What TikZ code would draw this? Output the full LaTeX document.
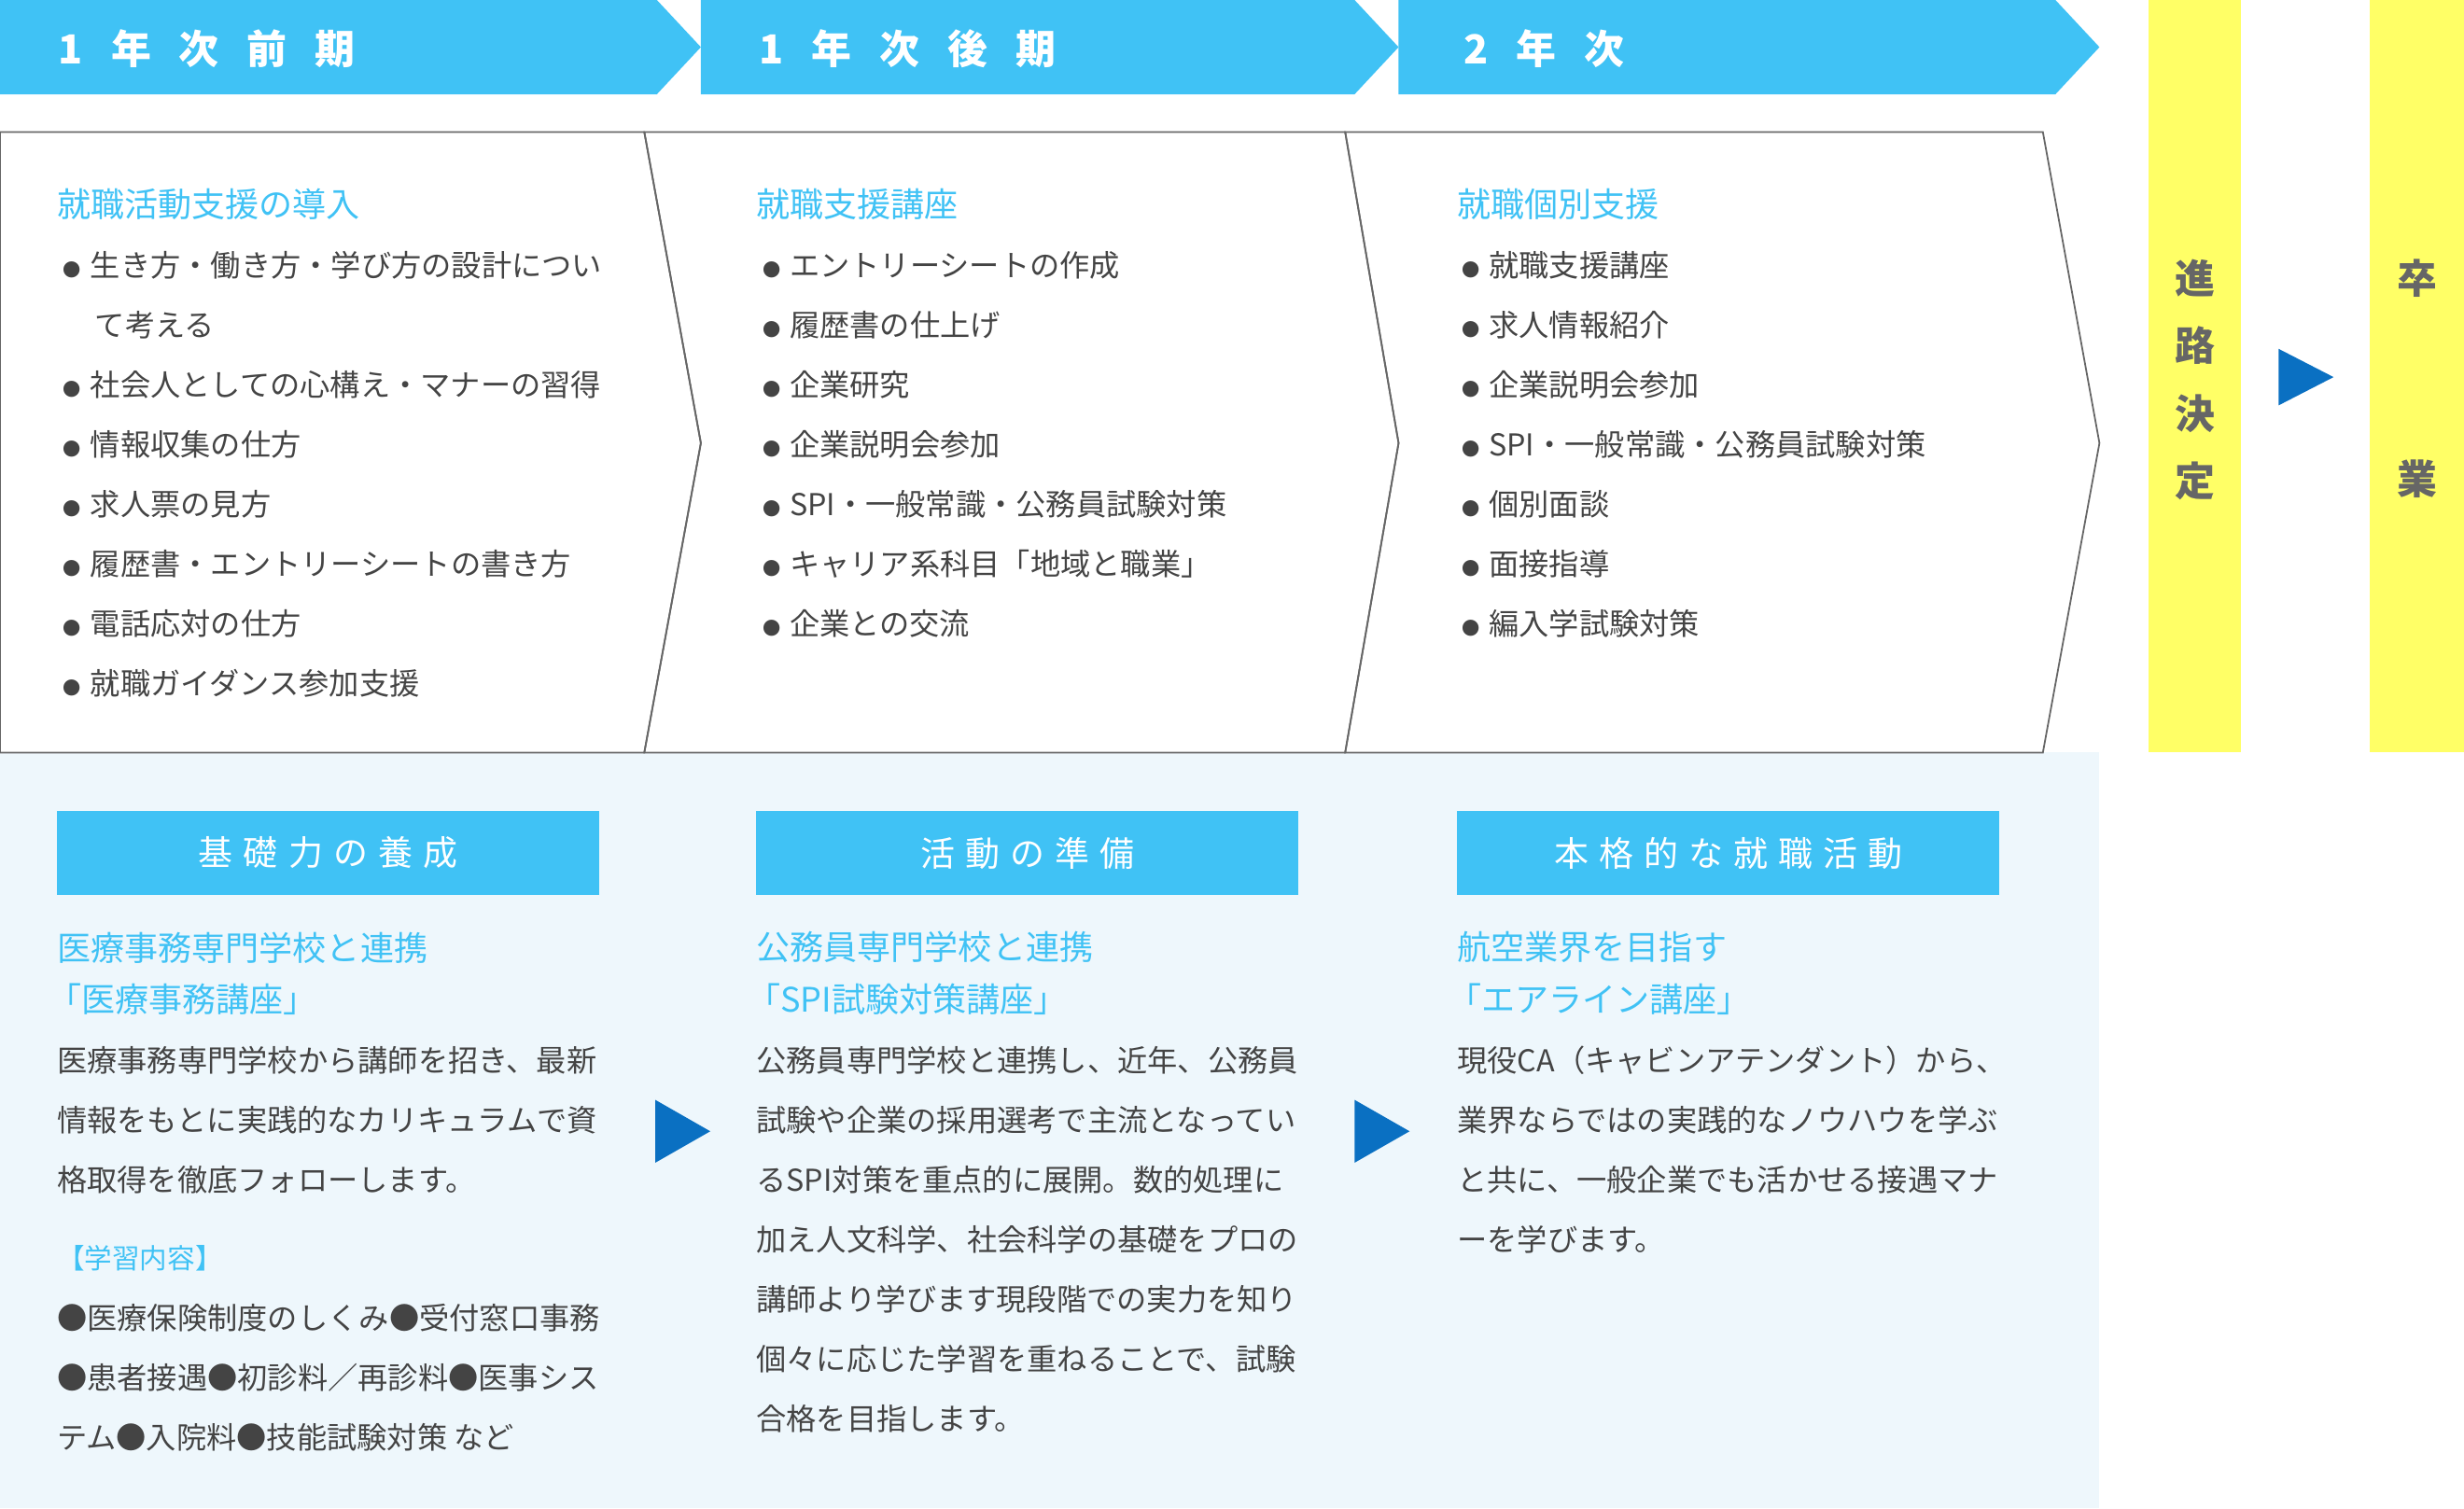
\documentclass[tikz,border=0pt]{standalone}
\usepackage{fontspec}
\setmainfont{Noto Sans CJK JP}
\usetikzlibrary{positioning}
\definecolor{skyb}{HTML}{40C2F5}
\definecolor{deepb}{HTML}{0A70C2}
\definecolor{paleb}{HTML}{EEF7FC}
\definecolor{yel}{HTML}{FFFF66}
\definecolor{txt}{HTML}{444444}
\newcommand{\dotb}{{\fontsize{6.5}{7}\selectfont●}\hspace{0.3em}}
\tikzset{
  body/.style={anchor=west, inner sep=0pt, text=txt, font=\fontsize{10.9}{12}\selectfont},
  ttl/.style={anchor=west, inner sep=0pt, text=skyb, font=\fontsize{12.2}{14}\selectfont},
  head/.style={fill=skyb, text=white, minimum width=6.9cm, minimum height=1.06cm, inner sep=0pt, anchor=north west,
    font=\fontsize{12.5}{14}\selectfont\addfontfeature{LetterSpace=30}},
  band/.style={text=white, inner sep=0pt, anchor=west, font=\fontsize{14.5}{16}\bfseries\addfontfeature{LetterSpace=70}},
  vert/.style={text=black!60, inner sep=0pt, font=\fontsize{14.5}{16}\bfseries},
}
\begin{document}
\begin{tikzpicture}[x=0.02cm, y=-0.02cm]
\useasboundingbox (0,0) rectangle (1568,960);
% top bands
\fill[skyb] (0,0) -- (418,0) -- (446,30) -- (418,60) -- (0,60) -- cycle;
\fill[skyb] (446,0) -- (862,0) -- (890,30) -- (862,60) -- (446,60) -- cycle;
\fill[skyb] (890,0) -- (1308,0) -- (1336,30) -- (1308,60) -- (890,60) -- cycle;
\node[band] (b1) at (37,31) {1年次前期};
\node[band] (b2) at (483,31) {1年次後期};
\node[band] (b3) at (931,31) {2年次};
% outline boxes
\fill[paleb] (0,479) rectangle (1336,960);
\draw[black!60, line width=0.6pt] (0,479) -- (0,84) -- (410,84) -- (446,282) -- (410,479) -- cycle;
\draw[black!60, line width=0.6pt] (410,84) -- (856,84) -- (890,282) -- (856,479) -- (410,479) -- (446,282) -- cycle;
\draw[black!60, line width=0.6pt] (856,84) -- (1300,84) -- (1336,282) -- (1300,479) -- (856,479) -- (890,282) -- cycle;
% yellow bars
\fill[yel] (1367,0) rectangle (1426,479);
\fill[yel] (1508,0) rectangle (1568,479);
\foreach \c [count=\i] in {進,路,決,定}
  \node[vert] (v\i) at (1397,134+43*\i) {\c};
\node[vert] (g1) at (1538,177) {卒};
\node[vert] (g2) at (1538,305) {業};
\fill[deepb] (1450,222) -- (1485,240) -- (1450,258) -- cycle;
% lists
\node[ttl] (t1) at (36,130) {就職活動支援の導入};
\node[ttl] (t2) at (481,130) {就職支援講座};
\node[ttl] (t3) at (927,130) {就職個別支援};
\foreach \s [count=\i] in {\dotb 生き方・働き方・学び方の設計につい,\hspace{1.05em}て考える,\dotb 社会人としての心構え・マナーの習得,\dotb 情報収集の仕方,\dotb 求人票の見方,\dotb 履歴書・エントリーシートの書き方,\dotb 電話応対の仕方,\dotb 就職ガイダンス参加支援}
  \node[body] at (40,131+38*\i) {\s};
\foreach \s [count=\i] in {エントリーシートの作成,履歴書の仕上げ,企業研究,企業説明会参加,SPI・一般常識・公務員試験対策,キャリア系科目「地域と職業」,企業との交流}
  \node[body] at (485,131+38*\i) {\dotb\s};
\foreach \s [count=\i] in {就職支援講座,求人情報紹介,企業説明会参加,SPI・一般常識・公務員試験対策,個別面談,面接指導,編入学試験対策}
  \node[body] at (930,131+38*\i) {\dotb\s};
% lower part
\node[head] (h1) at (36,516) {基礎力の養成};
\node[head] (h2) at (481,516) {活動の準備};
\node[head] (h3) at (927,516) {本格的な就職活動};
\fill[deepb] (417,700) -- (452,720) -- (417,740) -- cycle;
\fill[deepb] (862,700) -- (897,720) -- (862,740) -- cycle;
\node[ttl] (s1) at (36,603) {医療事務専門学校と連携};
\node[ttl] (s1b) at (30,636) {「医療事務講座」};
\node[ttl] (s2) at (481,603) {公務員専門学校と連携};
\node[ttl] (s2b) at (475,636) {「SPI試験対策講座」};
\node[ttl] (s3) at (927,603) {航空業界を目指す};
\node[ttl] (s3b) at (921,636) {「エアライン講座」};
\foreach \s [count=\i] in {医療事務専門学校から講師を招き、最新,情報をもとに実践的なカリキュラムで資,格取得を徹底フォローします。}
  \node[body] at (36,637+38*\i) {\s};
\node[ttl, font=\fontsize{10}{11}\selectfont] (k1) at (36,801) {【学習内容】};
\foreach \s [count=\i] in {●医療保険制度のしくみ●受付窓口事務,●患者接遇●初診料／再診料●医事シス,テム●入院料●技能試験対策 など}
  \node[body] at (36,801+38*\i) {\s};
\foreach \s [count=\i] in {公務員専門学校と連携し、近年、公務員,試験や企業の採用選考で主流となってい,るSPI対策を重点的に展開。数的処理に,加え人文科学、社会科学の基礎をプロの,講師より学びます現段階での実力を知り,個々に応じた学習を重ねることで、試験,合格を目指します。}
  \node[body] at (481,637+38*\i) {\s};
\foreach \s [count=\i] in {現役CA（キャビンアテンダント）から、,業界ならではの実践的なノウハウを学ぶ,と共に、一般企業でも活かせる接遇マナ,ーを学びます。}
  \node[body] at (927,637+38*\i) {\s};
\end{tikzpicture}
\end{document}
